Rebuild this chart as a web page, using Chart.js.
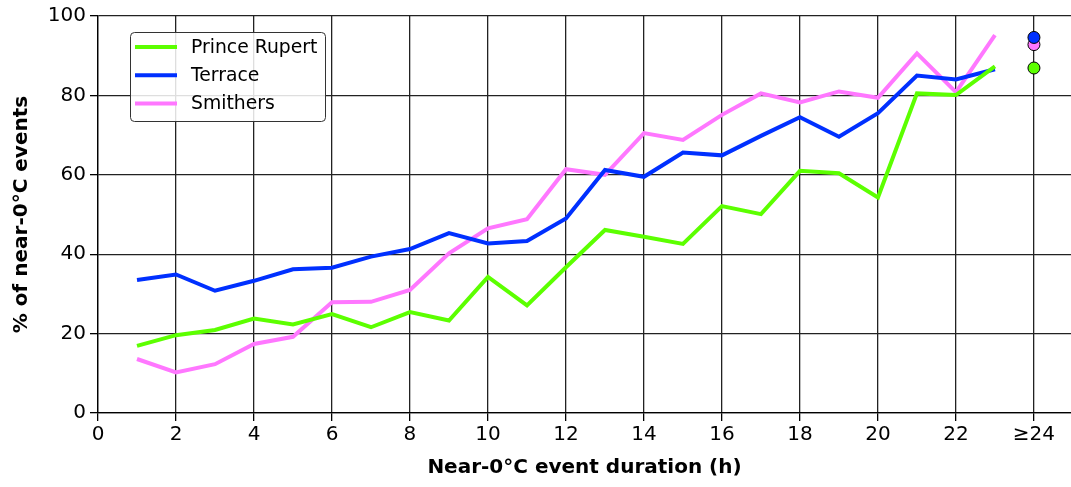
<!DOCTYPE html>
<html lang="en">
<head>
<meta charset="UTF-8">
<title>Near-0°C events by duration</title>
<script src="https://cdn.jsdelivr.net/npm/chart.js"></script>
<style>
  body { margin: 0; background: #ffffff; }
  #chart { display: block; }
</style>
</head>
<body>
<canvas id="chart" width="1071" height="487"></canvas>
<script>
// Share of near-0°C events by event duration (1–23 h), plus the ≥24 h bin as a single marker
const hours = [1, 2, 3, 4, 5, 6, 7, 8, 9, 10, 11, 12, 13, 14, 15, 16, 17, 18, 19, 20, 21, 22, 23];
const princeRupert = [16.9, 19.6, 20.9, 23.8, 22.3, 24.9, 21.6, 25.4, 23.3, 34.3, 27.1, 36.7, 46.1, 44.4, 42.6, 52.1, 50.1, 61.0, 60.4, 54.3, 80.5, 80.1, 87.3];
const terrace = [33.5, 34.9, 30.8, 33.3, 36.2, 36.6, 39.4, 41.3, 45.3, 42.7, 43.3, 49.0, 61.2, 59.5, 65.6, 64.9, 69.8, 74.5, 69.6, 75.5, 85.0, 84.0, 86.6];
const smithers = [13.6, 10.2, 12.3, 17.4, 19.2, 27.9, 28.0, 31.0, 40.2, 46.5, 48.8, 61.4, 60.0, 70.5, 68.8, 75.1, 80.5, 78.2, 81.0, 79.4, 90.6, 80.8, 95.2];

const stations = ['Prince Rupert', 'Terrace', 'Smithers'];
const stationColors = ['#5cff00', '#0030ff', '#ff77ff'];
const over24Values = [86.9, 94.6, 92.8];
const over24Position = 24;

const xTicks = [0, 2, 4, 6, 8, 10, 12, 14, 16, 18, 20, 22, 24];
const yTicks = [0, 20, 40, 60, 80, 100];

const FONT = "'DejaVu Sans', sans-serif";

const series = [princeRupert, terrace, smithers];

const lineSets = series.map((vals, i) => ({
    label: stations[i],
    data: hours.map((h, j) => ({ x: h, y: vals[j] })),
    borderColor: stationColors[i],
    backgroundColor: stationColors[i],
    borderWidth: 4,
    pointRadius: 0,
    tension: 0,
    order: 2
}));

// single dots for the ≥24 h bin
const dotSets = over24Values.map((v, i) => ({
    label: stations[i] + ' ≥24',
    data: [{ x: over24Position, y: v }],
    showLine: false,
    pointRadius: 6,
    pointBorderWidth: 1,
    pointBorderColor: '#000000',
    pointBackgroundColor: stationColors[i],
    order: 1
}));

// legend box drawn inside the plot, upper left
const insideLegend = {
    id: 'insideLegend',
    afterDraw(chart) {
        const ctx = chart.ctx;
        const x = 130, y = 32, w = 195, h = 89;
        ctx.save();
        ctx.beginPath();
        ctx.roundRect(x + 0.5, y + 0.5, w, h, 4);
        ctx.fillStyle = 'rgba(255,255,255,0.85)';
        ctx.fill();
        ctx.strokeStyle = '#333333';
        ctx.lineWidth = 1;
        ctx.stroke();
        ctx.font = "18.8px " + FONT;
        ctx.textBaseline = 'middle';
        stations.forEach((name, i) => {
            const yy = y + 15 + i * 28.3;
            ctx.beginPath();
            ctx.moveTo(x + 5, yy);
            ctx.lineTo(x + 47, yy);
            ctx.strokeStyle = stationColors[i];
            ctx.lineWidth = 4;
            ctx.stroke();
            ctx.fillStyle = '#000000';
            ctx.fillText(name, x + 61, yy + 1);
        });
        ctx.restore();
    }
};

new Chart(document.getElementById('chart'), {
    type: 'line',
    data: { datasets: lineSets.concat(dotSets) },
    options: {
        responsive: false,
        animation: false,
        layout: { autoPadding: false, padding: { top: 16, right: 0, left: 0, bottom: 0 } },
        plugins: {
            legend: { display: false },
            tooltip: { enabled: false }
        },
        scales: {
            x: {
                type: 'linear',
                min: 0,
                max: 24.95,
                afterBuildTicks: (scale) => { scale.ticks = xTicks.map(v => ({ value: v })); },
                afterFit: (scale) => {
                    scale.height = 74;
                    scale.paddingRight = 0;
                    scale.paddingLeft = 0;
                },
                ticks: {
                    color: '#000000',
                    font: { family: FONT, size: 20 },
                    padding: 2,
                    maxRotation: 0,
                    callback: (v) => v === over24Position ? '≥24' : String(v)
                },
                grid: { color: '#222222', lineWidth: 1.3, tickLength: 8, tickColor: '#000000' },
                border: { color: '#000000', width: 1.3 },
                title: {
                    display: true,
                    text: 'Near-0°C event duration (h)',
                    color: '#000000',
                    font: { family: FONT, size: 20, weight: 'bold' },
                    padding: { top: 0, bottom: 7 }
                }
            },
            y: {
                min: 0,
                max: 100,
                afterBuildTicks: (scale) => { scale.ticks = yTicks.map(v => ({ value: v })); },
                afterFit: (scale) => { scale.width = 98; },
                ticks: {
                    color: '#000000',
                    font: { family: FONT, size: 20 },
                    padding: 4
                },
                grid: { color: '#222222', lineWidth: 1.3, tickLength: 8, tickColor: '#000000' },
                border: { color: '#000000', width: 1.3 },
                title: {
                    display: true,
                    text: '% of near-0°C events',
                    color: '#000000',
                    font: { family: FONT, size: 20, weight: 'bold' },
                    padding: { top: 10, bottom: 0 }
                }
            }
        }
    },
    plugins: [insideLegend]
});
</script>
</body>
</html>
